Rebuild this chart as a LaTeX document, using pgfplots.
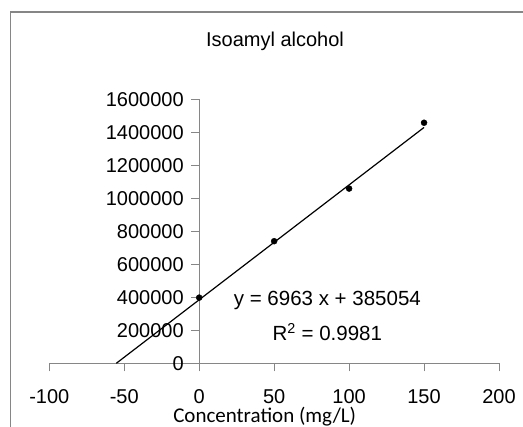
\documentclass[border=0pt]{standalone}
\usepackage{pgfplots}
\pgfplotsset{compat=1.18}
\usepackage{fontspec}
\setmainfont{Liberation Sans}
\newfontfamily\calibri{Carlito}
\definecolor{axgray}{RGB}{134,134,134}
\begin{document}
\begin{tikzpicture}
\useasboundingbox (0,0) rectangle (523bp,427bp);
\draw[axgray, line width=1.3bp] (10.5bp,-10bp) -- (10.5bp,415bp) -- (540bp,415bp);
\node[font=\fontsize{20bp}{24bp}\selectfont] at (275bp,386bp) {Isoamyl alcohol};
\node[font=\calibri\fontsize{21bp}{25bp}\selectfont] at (264.7bp,10.3bp) {Concentration (mg/L)};
\begin{axis}[
 at={(49.3bp,63.7bp)}, anchor=south west,
 scale only axis, width=449.7bp, height=264bp,
 xmin=-100,xmax=200,ymin=0,ymax=1600000,
 axis x line=bottom, axis y line=center,
 hide obscured x ticks=false, hide obscured y ticks=false,
 axis line style={axgray, line width=1bp, -},
 xtick={-100,-50,0,50,100,150,200},
 xticklabels={-100,-50,0,50,100,150,200},
 ytick={0,200000,400000,600000,800000,1000000,1200000,1400000,1600000},
 yticklabels={0,200000,400000,600000,800000,1000000,1200000,1400000,1600000},
 scaled ticks=false,
 tick style={axgray, line width=1bp},
 tick align=outside, major tick length=8bp,
 x tick label style={font=\fontsize{20bp}{24bp}\selectfont, anchor=north, yshift=-15bp},
 y tick label style={font=\fontsize{20bp}{24bp}\selectfont, anchor=east, xshift=-4bp},
 clip=false,
]
\addplot[black, line width=1.2bp] coordinates {(-55.3,0) (150,1429504)};
\addplot[only marks, mark=*, mark size=3bp, black] coordinates {(0,398000) (50,740000) (100,1059000) (150,1458000)};
\node[font=\fontsize{20.5bp}{24bp}\selectfont] at (axis cs:85.5,378000) {y = 6963 x + 385054};
\node[font=\fontsize{20.5bp}{24bp}\selectfont] at (axis cs:85.5,190000) {R\textsuperscript{2} = 0.9981};
\end{axis}
\end{tikzpicture}
\end{document}
